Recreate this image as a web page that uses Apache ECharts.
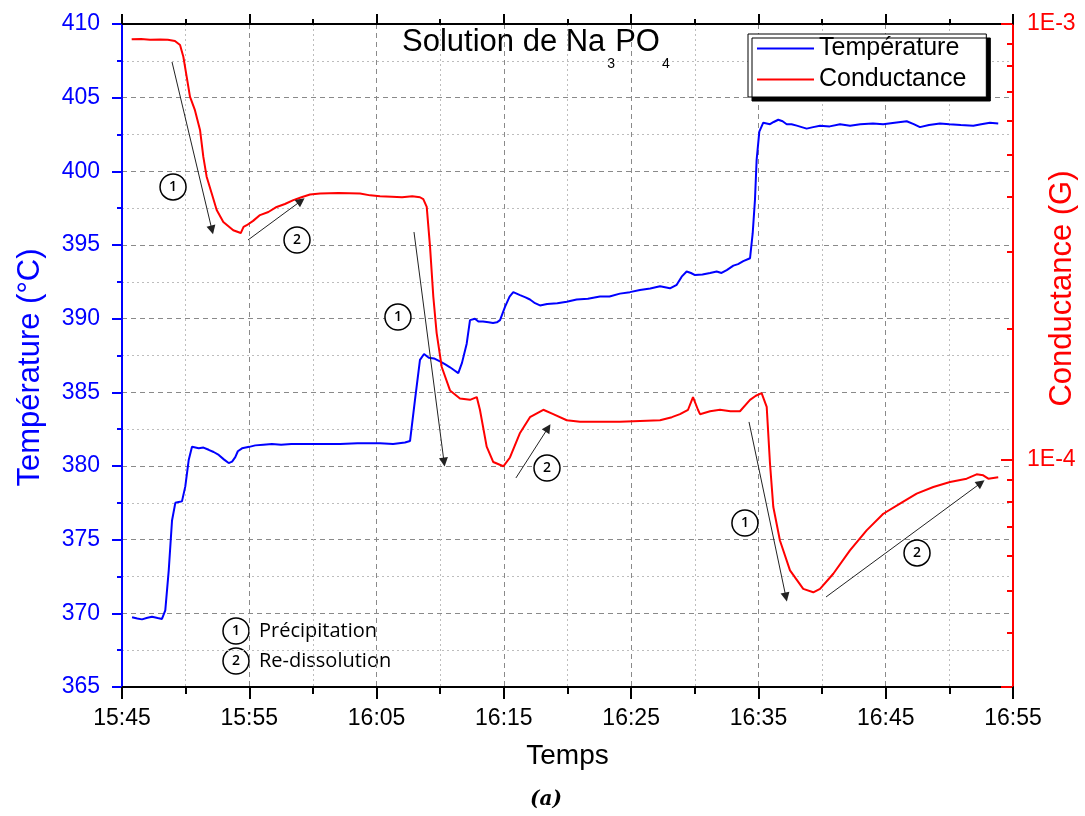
<!DOCTYPE html>
<html><head><meta charset="utf-8">
<script src="https://cdn.jsdelivr.net/npm/echarts@6/dist/echarts.min.js"></script>
<style>html,body{margin:0;padding:0;background:#fff}#c{width:1085px;height:816px}</style>
</head><body><div id="c"></div>
<script>
// time in minutes after 15:45
const timeTicks = ['15:45','15:55','16:05','16:15','16:25','16:35','16:45','16:55'];

const tempTime = [0.79,1.2,1.57,2.0,2.36,2.8,3.14,3.40,3.67,3.93,4.19,4.45,4.71,4.97,5.24,5.50,6.03,6.4,6.81,7.2,7.60,8.0,8.38,8.65,8.90,9.1,9.43,10.0,10.47,11.1,11.78,12.5,13.3,14.14,15.5,17.13,18.5,20.27,21.3,22.23,22.63,23.02,23.41,23.73,24.1,24.51,24.98,25.4,25.77,26.1,26.42,26.71,27.08,27.34,27.73,28.0,28.36,28.8,29.15,29.45,29.70,30.09,30.45,30.74,31.27,31.7,32.05,32.45,32.84,33.4,34.2,34.94,35.72,36.6,37.55,38.3,39.12,39.9,40.69,41.5,42.27,43.05,43.58,43.97,44.36,44.7,45.02,45.6,46.20,46.72,47.1,47.51,48.03,48.4,48.81,49.34,49.55,49.73,49.86,50.07,50.38,50.91,51.2,51.56,51.9,52.22,52.6,53.01,53.4,53.79,54.3,54.84,55.6,56.41,57.2,58.0,59.0,59.8,60.7,61.65,62.2,62.69,63.4,64.26,65.0,65.9,66.88,67.5,68.19,68.84];
const tempValues = [369.73,369.65,369.59,369.7,369.77,369.68,369.62,370.2,372.9,376.3,377.5,377.55,377.6,378.6,380.4,381.3,381.2,381.25,381.1,380.95,380.75,380.45,380.2,380.3,380.6,381.0,381.2,381.3,381.4,381.45,381.5,381.45,381.5,381.5,381.5,381.5,381.55,381.55,381.5,381.6,381.7,384.5,387.2,387.6,387.35,387.3,387.1,386.9,386.7,386.5,386.3,387.0,388.3,389.9,390.0,389.8,389.8,389.75,389.7,389.75,389.9,390.8,391.5,391.8,391.6,391.45,391.3,391.05,390.9,391.0,391.05,391.15,391.3,391.35,391.5,391.5,391.7,391.8,391.95,392.05,392.2,392.06,392.3,392.85,393.2,393.1,392.96,393.0,393.1,393.2,393.1,393.3,393.6,393.7,393.9,394.1,395.8,398.1,400.8,402.7,403.3,403.2,403.35,403.5,403.4,403.2,403.2,403.1,403.0,402.9,403.0,403.1,403.05,403.2,403.1,403.2,403.25,403.2,403.3,403.4,403.2,403.0,403.15,403.25,403.2,403.15,403.1,403.2,403.3,403.25];

const condTime = [0.76,1.5,2.2,3.0,3.6,4.16,4.56,4.82,5.08,5.34,5.73,6.13,6.39,6.65,7.05,7.44,7.96,8.74,9.33,9.55,9.80,10.3,10.84,11.5,12.15,12.8,13.46,14.1,14.77,15.56,17.0,18.70,19.5,20.27,21.2,22.0,22.8,23.41,23.67,23.94,24.20,24.46,24.72,25.12,25.77,26.55,27.34,27.87,28.12,28.65,29.17,29.96,30.48,31.27,32.05,33.10,33.88,34.94,35.98,37.5,39.12,40.7,42.27,43.2,43.84,44.47,44.86,45.25,45.41,46.2,46.98,47.8,48.55,49.34,49.8,50.25,50.65,50.91,51.17,51.69,52.48,53.52,54.31,54.84,55.88,57.19,58.50,59.81,61.12,62.43,63.74,65.05,66.36,67.14,67.66,68.06,68.84];
const condValues = [9.22e-4,9.24e-4,9.20e-4,9.21e-4,9.20e-4,9.14e-4,8.95e-4,8.41e-4,7.57e-4,6.81e-4,6.34e-4,5.71e-4,4.95e-4,4.46e-4,4.08e-4,3.74e-4,3.51e-4,3.36e-4,3.31e-4,3.42e-4,3.45e-4,3.53e-4,3.64e-4,3.70e-4,3.80e-4,3.86e-4,3.94e-4,4.00e-4,4.06e-4,4.08e-4,4.09e-4,4.08e-4,4.04e-4,4.02e-4,4.01e-4,4.00e-4,4.02e-4,4.00e-4,3.96e-4,3.80e-4,3.08e-4,2.36e-4,1.95e-4,1.63e-4,1.44e-4,1.38e-4,1.37e-4,1.39e-4,1.30e-4,1.07e-4,9.86e-5,9.64e-5,1.01e-4,1.15e-4,1.25e-4,1.30e-4,1.27e-4,1.23e-4,1.22e-4,1.22e-4,1.22e-4,1.225e-4,1.23e-4,1.25e-4,1.27e-4,1.30e-4,1.39e-4,1.30e-4,1.27e-4,1.29e-4,1.30e-4,1.29e-4,1.29e-4,1.37e-4,1.40e-4,1.42e-4,1.32e-4,9.77e-5,7.77e-5,6.51e-5,5.56e-5,5.04e-5,4.95e-5,5.04e-5,5.46e-5,6.18e-5,6.87e-5,7.50e-5,7.91e-5,8.34e-5,8.64e-5,8.87e-5,9.03e-5,9.24e-5,9.19e-5,9.03e-5,9.10e-5];

const condMin = 3e-5, condMax = 1e-3;
const condMinorTicks = [9e-4,8e-4,7e-4,6e-4,5e-4,4e-4,3e-4,2e-4,9e-5,8e-5,7e-5,6e-5,5e-5,4e-5];

// annotation arrows [t0, T0, t1, T1] and circled numbers [t, T, label] (time, temperature coords)
const arrows = [[3.93,407.42,7.07,396.02],[9.90,395.34,14.06,397.99],[22.94,395.88,25.30,380.27],[30.95,379.19,33.47,382.58],[49.26,382.99,52.16,371.11],[55.31,371.11,67.48,378.85]];
const circles = [[4.01,398.94,'1'],[13.75,395.34,'2'],[21.68,390.11,'1'],[33.39,379.86,'2'],[48.94,376.13,'1'],[62.46,374.10,'2']];

const FONT = 'Liberation Sans';
const tempData = tempTime.map((t,i)=>[t,tempValues[i]]);
const condData = condTime.map((t,i)=>[t,condValues[i]]);

const chart = echarts.init(document.getElementById('c'), null, {renderer:'canvas'});
const dashed = {color:'#8a8a8a', width:1, type:[5,4]};
const dotted = {color:'#bdbdbd', width:1, type:[2,3]};
chart.setOption({
  animation:false,
  backgroundColor:'#fff',
  grid:{left:122, right:72, top:24, bottom:129, containLabel:false, outerBoundsMode:'none'},
  title:{
    text:'{m|Solution de Na}{s|3}{m|PO}{s|4}',
    left:397, top:22,
    textStyle:{fontWeight:'normal', rich:{
      m:{fontSize:31, fontFamily:FONT, fontWeight:'normal', color:'#000', lineHeight:34, verticalAlign:'top'},
      s:{fontSize:14, fontFamily:FONT, fontWeight:'normal', color:'#000', lineHeight:14, padding:[30,0,0,2], verticalAlign:'top'}
    }}
  },
  legend:{
    data:[{name:'Température', icon:'rect'},{name:'Conductance', icon:'rect'}],
    orient:'vertical', left:748, top:34,
    padding:[1,20,4,9], itemGap:4, itemWidth:57, itemHeight:2,
    backgroundColor:'#fff', borderColor:'#000', borderWidth:1,
    shadowColor:'#000', shadowBlur:0, shadowOffsetX:4, shadowOffsetY:4,
    textStyle:{fontSize:25, fontFamily:FONT, color:'#000', lineHeight:27}
  },
  xAxis:[{
    type:'value', min:0, max:70, interval:10, position:'bottom',
    name:'Temps', nameLocation:'middle', nameGap:55,
    nameTextStyle:{fontSize:28, fontFamily:FONT, color:'#000'},
    axisLine:{onZero:false, lineStyle:{color:'#000', width:2}},
    axisTick:{length:12, lineStyle:{color:'#000', width:2}},
    minorTick:{show:true, splitNumber:2, length:7, lineStyle:{color:'#000', width:2}},
    axisLabel:{fontSize:23, fontFamily:FONT, color:'#000', margin:20, formatter:v=>timeTicks[Math.round(v/10)]},
    splitLine:{show:true, lineStyle:dashed},
    minorSplitLine:{show:true, lineStyle:dotted}
  },{
    type:'value', min:0, max:70, interval:10, position:'top',
    axisLine:{onZero:false, lineStyle:{color:'#000', width:2}},
    axisTick:{length:10, lineStyle:{color:'#000', width:2}},
    minorTick:{show:true, splitNumber:2, length:5, lineStyle:{color:'#000', width:2}},
    axisLabel:{show:false}, splitLine:{show:false}
  }],
  yAxis:[{
    type:'value', min:365, max:410, interval:5, position:'left',
    name:'Température (°C)', nameLocation:'middle', nameGap:76, nameMoveOverlap:false,
    nameTextStyle:{fontSize:31, fontFamily:FONT, color:'#0000ff', padding:[0,24,0,0]},
    axisLine:{onZero:false, lineStyle:{color:'#0000ff', width:2}},
    axisTick:{length:10, lineStyle:{color:'#0000ff', width:2}},
    minorTick:{show:true, splitNumber:2, length:5, lineStyle:{color:'#0000ff', width:2}},
    axisLabel:{fontSize:23, fontFamily:FONT, color:'#0000ff', margin:22},
    splitLine:{show:true, lineStyle:dashed},
    minorSplitLine:{show:true, lineStyle:dotted}
  },{
    type:'log', logBase:10, min:condMin, max:condMax, position:'right',
    name:'Conductance (G)', nameLocation:'middle', nameGap:34, nameMoveOverlap:false,
    nameTextStyle:{fontSize:31, fontFamily:FONT, color:'#ff0000', padding:[0,0,0,134]},
    axisLine:{show:true, onZero:false, lineStyle:{color:'#ff0000', width:2}},
    axisTick:{inside:true, length:12, lineStyle:{color:'#ff0000', width:2}},
    axisLabel:{fontSize:23, fontFamily:FONT, color:'#ff0000', margin:14,
      formatter:v=>{const l=Math.log10(v); return Math.abs(l-Math.round(l))<0.01 ? '1E'+Math.round(l) : '';}},
    splitLine:{show:false}
  },{
    type:'value', min:Math.log10(condMin), max:Math.log10(condMax), position:'right',
    axisLine:{show:false, onZero:false},
    axisTick:{show:true, inside:true, length:6, lineStyle:{color:'#ff0000', width:2}, customValues:condMinorTicks.map(Math.log10)},
    axisLabel:{show:false}, splitLine:{show:false}
  }],
  series:[{
    name:'Température', type:'line', xAxisIndex:0, yAxisIndex:0, data:tempData,
    symbol:'none', showSymbol:false, lineStyle:{color:'#0000ff', width:2}, itemStyle:{color:'#0000ff'}
  },{
    name:'Conductance', type:'line', xAxisIndex:0, yAxisIndex:1, data:condData,
    symbol:'none', showSymbol:false, lineStyle:{color:'#ff0000', width:2}, itemStyle:{color:'#ff0000'}
  },{
    name:'arrows', type:'line', xAxisIndex:0, yAxisIndex:0, data:[], silent:true,
    markLine:{
      silent:true, animation:false, symbol:['none','triangle'], symbolSize:9,
      label:{show:false}, lineStyle:{color:'#222', width:1, type:'solid'},
      emphasis:{disabled:true},
      data:arrows.map(a=>[{coord:[a[0],a[1]]},{coord:[a[2],a[3]]}])
    }
  },{
    name:'circles', type:'scatter', xAxisIndex:0, yAxisIndex:0, silent:true, z:5,
    data:circles.map(c=>[c[0],c[1],c[2]]),
    symbol:'circle', symbolSize:26,
    itemStyle:{color:'#fff', borderColor:'#000', borderWidth:1.5, opacity:1},
    label:{show:true, position:'inside', formatter:p=>p.value[2], color:'#000', fontSize:14, fontWeight:600, fontFamily:'Open Sans'}
  }],
  graphic:[
    {type:'circle', shape:{cx:236, cy:631, r:13}, style:{fill:'#fff', stroke:'#000', lineWidth:1.5}},
    {type:'text', x:236, y:631, style:{text:'1', align:'center', verticalAlign:'middle', fontSize:14, fontWeight:600, fontFamily:'Open Sans', fill:'#000'}},
    {type:'text', x:259, y:631, style:{text:'Précipitation', verticalAlign:'middle', fontSize:20, fontFamily:'Open Sans', fill:'#000'}},
    {type:'circle', shape:{cx:236, cy:661, r:13}, style:{fill:'#fff', stroke:'#000', lineWidth:1.5}},
    {type:'text', x:236, y:661, style:{text:'2', align:'center', verticalAlign:'middle', fontSize:14, fontWeight:600, fontFamily:'Open Sans', fill:'#000'}},
    {type:'text', x:259, y:661, style:{text:'Re-dissolution', verticalAlign:'middle', fontSize:20, fontFamily:'Open Sans', fill:'#000'}},
    {type:'text', x:546, y:800, style:{text:'(a)', align:'center', verticalAlign:'middle', fontSize:20, fontStyle:'italic', fontWeight:'bold', fontFamily:'DejaVu Serif', fill:'#000'}}
  ]
});
</script>
</body></html>
